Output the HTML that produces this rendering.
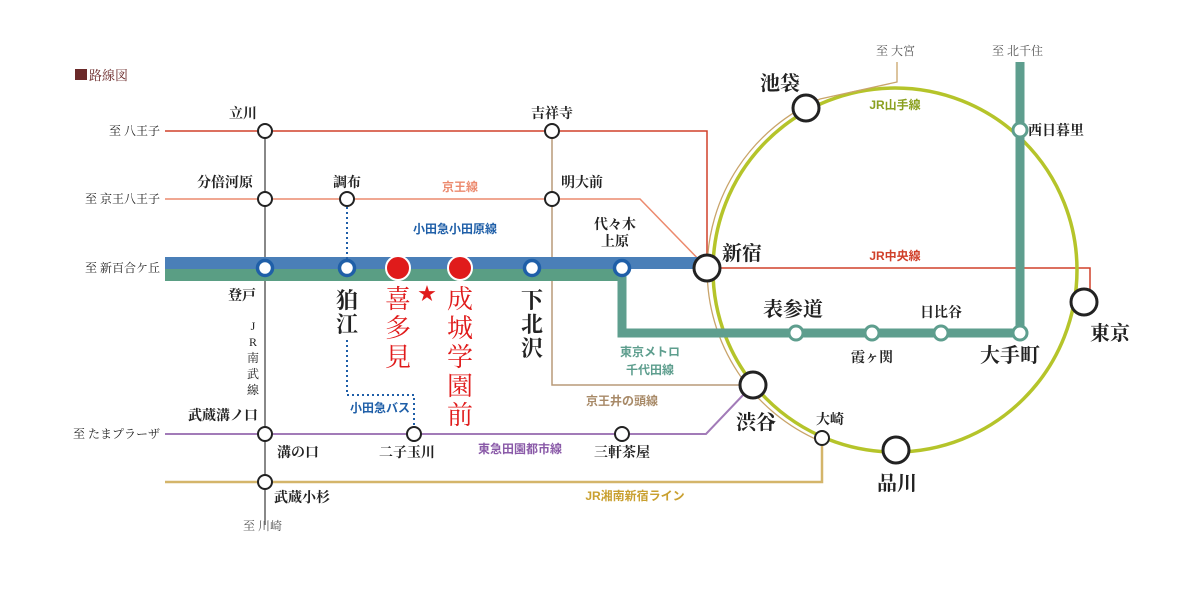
<!DOCTYPE html>
<html><head><meta charset="utf-8"><style>
html,body{margin:0;padding:0;background:#fff;}
svg text{font-family:"Liberation Serif","Noto Serif CJK SC",serif;fill:#222;}
.s{font-family:"Liberation Sans","Noto Sans CJK JP",sans-serif !important;font-weight:bold;}
.g{fill:#555 !important;font-size:12px;}
</style></head><body>
<svg width="1200" height="594" viewBox="0 0 1200 594" xmlns="http://www.w3.org/2000/svg">
<rect x="75" y="69" width="12" height="11" fill="#6b2a2a"/>
<text x="89" y="80" font-size="13" style="fill:#6b2a2a">路線図</text>

<line x1="265" y1="131" x2="265" y2="525" stroke="#888" stroke-width="2"/>
<polyline points="552,131 552,385 742,385" fill="none" stroke="#b89a78" stroke-width="1.5"/>
<polyline points="165,131 707,131 707,268 1090,268 1090,292" fill="none" stroke="#d0402a" stroke-width="1.5"/>
<polyline points="165,199 640,199 707,268" fill="none" stroke="#ec8a6e" stroke-width="1.5"/>
<polyline points="165,434 706,434 745,393" fill="none" stroke="#a27bb8" stroke-width="2"/>
<polyline points="165,482 822,482 822,446" fill="none" stroke="#d4b56a" stroke-width="2.5"/>
<circle cx="895" cy="270" r="182" fill="none" stroke="#b5c42a" stroke-width="3.5"/>
<path d="M 820 99 A 186 186 0 0 0 820 441" fill="none" stroke="#c9a46a" stroke-width="1.3"/>
<polyline points="820,99 897,82 897,62" fill="none" stroke="#c9a46a" stroke-width="1.3"/>
<rect x="165" y="257" width="542" height="12" fill="#4a7fb8"/>
<rect x="165" y="269" width="457" height="12" fill="#5a9e84"/>
<polyline points="622,268 622,333 1020,333 1020,62" fill="none" stroke="#5e9e8e" stroke-width="9"/>
<polyline points="347,207 347,260" fill="none" stroke="#1f5fa8" stroke-width="2" stroke-dasharray="2,3"/>
<polyline points="347,340 347,395 414,395 414,426" fill="none" stroke="#1f5fa8" stroke-width="2" stroke-dasharray="2,3"/>

<g fill="#fff" stroke="#222" stroke-width="2">
<circle cx="265" cy="131" r="7"/><circle cx="552" cy="131" r="7"/>
<circle cx="265" cy="199" r="7"/><circle cx="347" cy="199" r="7"/><circle cx="552" cy="199" r="7"/>
<circle cx="265" cy="434" r="7"/><circle cx="414" cy="434" r="7"/><circle cx="622" cy="434" r="7"/>
<circle cx="265" cy="482" r="7"/>
<circle cx="707" cy="268" r="13" stroke-width="3"/>
<circle cx="806" cy="108" r="13" stroke-width="3"/>
<circle cx="753" cy="385" r="13" stroke-width="3"/>
<circle cx="896" cy="450" r="13" stroke-width="3"/>
<circle cx="1084" cy="302" r="13" stroke-width="3"/>
<circle cx="822" cy="438" r="7"/>
</g>
<g fill="#fff" stroke="#1f5fa8" stroke-width="3.5">
<circle cx="265" cy="268" r="7.5"/><circle cx="347" cy="268" r="7.5"/><circle cx="532" cy="268" r="7.5"/><circle cx="622" cy="268" r="7.5"/>
</g>
<g fill="#e01b1b" stroke="#fff" stroke-width="2">
<circle cx="398" cy="268" r="12"/><circle cx="460" cy="268" r="12"/>
</g>
<g fill="#fff" stroke="#5e9e8e" stroke-width="3">
<circle cx="1020" cy="130" r="7"/><circle cx="796" cy="333" r="7"/><circle cx="872" cy="333" r="7"/><circle cx="941" cy="333" r="7"/><circle cx="1020" cy="333" r="7"/>
</g>

<g class="g" text-anchor="end">
<text x="160" y="135">至 八王子</text>
<text x="160" y="203">至 京王八王子</text>
<text x="160" y="272">至 新百合ケ丘</text>
<text x="160" y="438">至 たまプラーザ</text>
</g>
<text class="g" x="243" y="530">至 川崎</text>
<text class="g" x="876" y="55">至 大宮</text>
<text class="g" x="992" y="55">至 北千住</text>
<g class="g" text-anchor="middle" font-size="13">
<text x="253" y="330">J</text><text x="253" y="346">R</text><text x="253" y="362">南</text><text x="253" y="378">武</text><text x="253" y="394">線</text>
</g>

<g font-size="14" text-anchor="middle" font-weight="bold">
<text x="243" y="118">立川</text>
<text x="552" y="118">吉祥寺</text>
<text x="225" y="187">分倍河原</text>
<text x="347" y="187">調布</text>
<text x="582" y="187">明大前</text>
<text x="615" y="229">代々木</text>
<text x="615" y="246">上原</text>
<text x="242" y="300">登戸</text>
<text x="223" y="420">武蔵溝ノ口</text>
<text x="298" y="457">溝の口</text>
<text x="407" y="457">二子玉川</text>
<text x="622" y="457">三軒茶屋</text>
<text x="302" y="502">武蔵小杉</text>
<text x="1056" y="135">西日暮里</text>
<text x="941" y="317">日比谷</text>
<text x="872" y="362">霞ヶ関</text>
<text x="830" y="424">大崎</text>
</g>
<g font-size="20" text-anchor="middle" font-weight="bold">
<text x="780" y="90">池袋</text>
<text x="742" y="260">新宿</text>
<text x="793" y="316">表参道</text>
<text x="1010" y="362">大手町</text>
<text x="1110" y="340">東京</text>
<text x="756" y="429">渋谷</text>
<text x="897" y="490">品川</text>
</g>
<g font-size="22" text-anchor="middle" font-weight="bold">
<text x="347" y="308">狛</text><text x="347" y="332">江</text>
<text x="532" y="308">下</text><text x="532" y="332">北</text><text x="532" y="356">沢</text>
</g>
<g font-size="26" text-anchor="middle">
<text x="398" y="308" style="fill:#e01b1b">喜</text><text x="398" y="337" style="fill:#e01b1b">多</text><text x="398" y="366" style="fill:#e01b1b">見</text>
<text x="460" y="308" style="fill:#e01b1b">成</text><text x="460" y="337" style="fill:#e01b1b">城</text><text x="460" y="366" style="fill:#e01b1b">学</text><text x="460" y="395" style="fill:#e01b1b">園</text><text x="460" y="424" style="fill:#e01b1b">前</text>
<text x="427" y="300" font-size="18" style="fill:#e01b1b">★</text>
</g>

<g class="s" font-size="12" text-anchor="middle">
<text class="s" x="460" y="191" style="fill:#ec8a6e">京王線</text>
<text class="s" x="455" y="233" style="fill:#1f5fa8">小田急小田原線</text>
<text class="s" x="380" y="412" style="fill:#1f5fa8">小田急バス</text>
<text class="s" x="650" y="356" style="fill:#5e9e8e">東京メトロ</text>
<text class="s" x="650" y="374" style="fill:#5e9e8e">千代田線</text>
<text class="s" x="622" y="405" style="fill:#a88a68">京王井の頭線</text>
<text class="s" x="520" y="453" style="fill:#8a5aa8">東急田園都市線</text>
<text class="s" x="635" y="500" style="fill:#c9a030">JR湘南新宿ライン</text>
<text class="s" x="895" y="109" style="fill:#8aa020">JR山手線</text>
<text class="s" x="895" y="260" style="fill:#d0402a">JR中央線</text>
</g>
</svg>
</body></html>
